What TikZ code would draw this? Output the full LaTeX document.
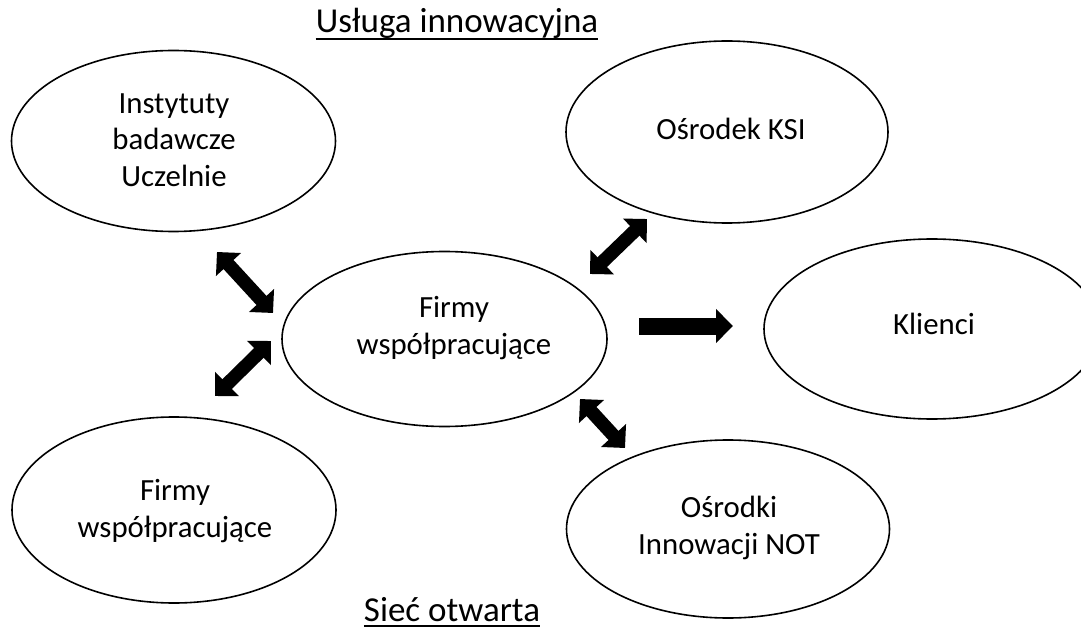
\documentclass[tikz,border=0pt]{standalone}
\usepackage{fontspec}
\setmainfont{Carlito}
\usetikzlibrary{shapes.geometric,arrows.meta}

\tikzset{
  oval/.style={ellipse, draw=black, line width=1.6pt, inner sep=0pt, fill=none},
  lbl/.style={align=center, inner sep=0pt, font=\fontsize{30.8}{36.5}\selectfont},
  heading/.style={inner sep=0pt, anchor=base, font=\fontsize{35}{42}\selectfont},
  uline/.style={line width=1.3pt},
  twoway/.style={line width=13.5pt,
    {Triangle[width=33pt,length=17pt]}-{Triangle[width=33pt,length=17pt]}},
  oneway/.style={line width=17pt, -{Triangle[width=33pt,length=17pt]}}
}

\begin{document}
\begin{tikzpicture}[x=1pt, y=-1pt]
  \useasboundingbox (0,0) rectangle (1081,628);
  \clip (0,0) rectangle (1081,628);

  % headings
  \node[heading] (top) at (457,33) {Usługa innowacyjna};
  \draw[uline] ([yshift=-6pt]top.base west) -- ([yshift=-6pt]top.base east);
  \node[heading] (bottom) at (452,621) {Sieć otwarta};
  \draw[uline] ([yshift=-5pt]bottom.base west) -- ([yshift=-5pt]bottom.base east);

  % ovals
  \node[oval, minimum width=324pt, minimum height=181pt] (inst) at (173.5,141) {};
  \node[oval, minimum width=322pt, minimum height=182pt] (ksi)  at (727,132) {};
  \node[oval, minimum width=325pt, minimum height=175pt] (firm) at (444.5,339) {};
  \node[oval, minimum width=336pt, minimum height=180pt] (kli)  at (932,329) {};
  \node[oval, minimum width=324pt, minimum height=186pt] (coop) at (174,510) {};
  \node[oval, minimum width=323pt, minimum height=178pt] (not)  at (728,529) {};

  % labels
  \node[lbl] (inst-t) at (174,140) {Instytuty\\badawcze\\Uczelnie};
  \node[lbl, anchor=base] (ksi-t) at (731,140) {Ośrodek KSI};
  \node[lbl] (firm-t) at (454,328) {Firmy\\współpracujące};
  \node[lbl, anchor=base] (kli-t) at (934,334) {Klienci};
  \node[lbl] (coop-t) at (175,511) {Firmy\\współpracujące};
  \node[lbl] (not-t) at (729,528) {Ośrodki\\Innowacji NOT};

  % arrow ends
  \coordinate (a1) at (217,252);  \coordinate (a2) at (273,313);
  \coordinate (b1) at (271,341);  \coordinate (b2) at (215,396);
  \coordinate (c1) at (590,274);  \coordinate (c2) at (647,219);
  \coordinate (d1) at (639,326);  \coordinate (d2) at (733,326);
  \coordinate (e1) at (580,399);  \coordinate (e2) at (625,448);

  % block arrows
  \draw[twoway] (a1) -- (a2);
  \draw[twoway] (b1) -- (b2);
  \draw[twoway] (c1) -- (c2);
  \draw[oneway] (d1) -- (d2);
  \draw[twoway] (e1) -- (e2);
\end{tikzpicture}
\end{document}
